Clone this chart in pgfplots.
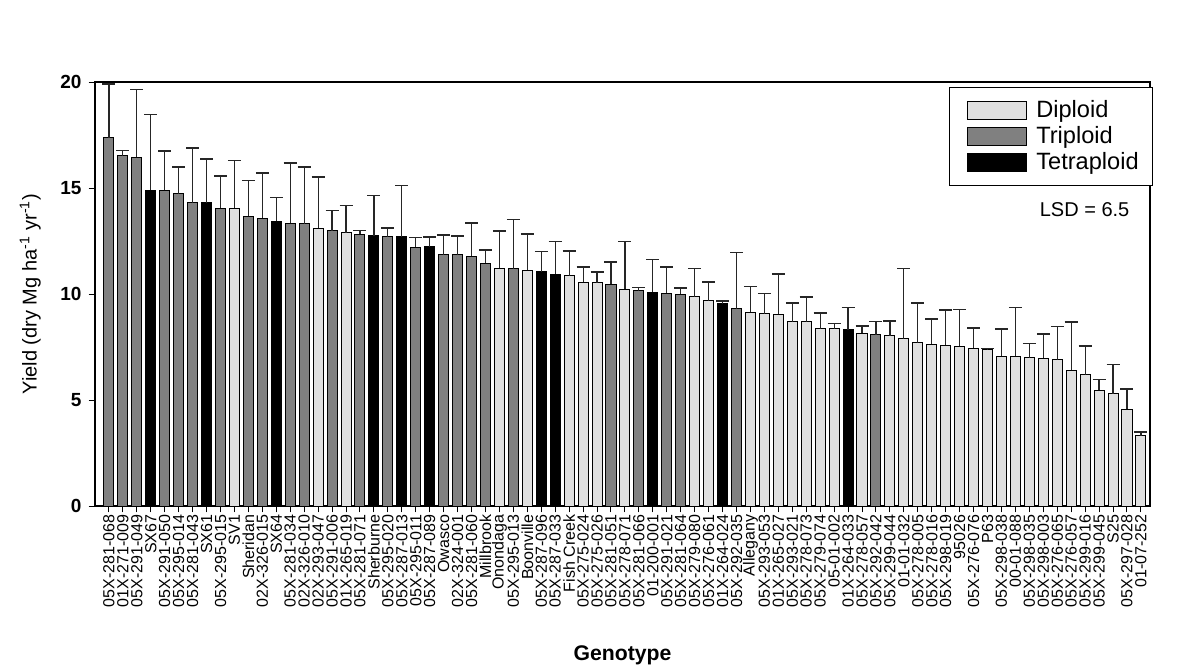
\documentclass[border=0pt]{standalone}
\usepackage{fontspec}
\setmainfont{Liberation Sans}
\usepackage{pgfplots}
\pgfplotsset{compat=1.18}
\definecolor{dip}{HTML}{E0E0E0}
\definecolor{trip}{HTML}{808080}
\begin{document}
\begin{tikzpicture}
\useasboundingbox (-47.5pt,-82pt) rectangle (552.5pt,253pt);
\begin{axis}[
 at={(0,0)}, anchor=south west,
 scale only axis, width=527.5pt, height=212pt,
 xmin=-1, xmax=74.65, ymin=0, ymax=20,
 ybar, bar width=0.72, bar shift=0pt,
 xtick={0,...,74},
 xticklabels={05X-281-068,01X-271-009,05X-291-049,SX67,05X-291-050,05X-295-014,05X-281-043,SX61,05X-295-015,SV1,Sheridan,02X-326-015,SX64,05X-281-034,02X-326-010,02X-293-047,05X-291-006,01X-265-019,05X-281-071,Sherburne,05X-295-020,05X-287-013,05X-295-011,05X-287-089,Owasco,02X-324-001,05X-281-060,Millbrook,Onondaga,05X-295-013,Boonville,05X-287-096,05X-287-033,Fish Creek,05X-275-024,05X-275-026,05X-281-051,05X-278-071,05X-281-066,01-200-001,05X-291-021,05X-281-064,05X-279-080,05X-276-061,01X-264-024,05X-292-035,Allegany,05X-293-053,01X-265-027,05X-293-021,05X-278-073,05X-279-074,05-01-002,01X-264-033,05X-278-057,05X-292-042,05X-299-044,01-01-032,05X-278-005,05X-278-016,05X-298-019,95026,05X-276-076,P63,05X-298-038,00-01-088,05X-298-035,05X-298-003,05X-276-065,05X-276-057,05X-299-016,05X-299-045,S25,05X-297-028,01-07-252},
 xticklabel style={rotate=90, anchor=east, font=\fontsize{8}{8}\selectfont, inner sep=1pt},
 ytick={0,5,10,15,20},
 yticklabel style={font=\fontsize{9.5}{10}\selectfont\bfseries},
 /pgf/number format/assume math mode=true,
 tick align=outside, xtick pos=bottom, ytick pos=left,
 major tick length=3.2pt,
 tick style={black, line width=0.5pt},
 axis line style={line width=0.6pt},
 ylabel={Yield (dry Mg ha\textsuperscript{-1} yr\textsuperscript{-1})},
 ylabel style={font=\fontsize{10}{12}\selectfont, yshift=3pt},
 xlabel={Genotype},
 xlabel style={font=\fontsize{10.6}{12}\selectfont\bfseries, at={(axis description cs:0.5,0)}, anchor=center, yshift=-74.5pt},
 error bars/y dir=plus, error bars/y explicit,
 error bars/error bar style={line width=0.6pt, black!85},
 error bars/error mark options={rotate=90, mark size=3.25pt, line width=0.8pt, black!85},
 legend image code/.code={\path (-4pt,0pt); \draw[#1, line width=0.5pt] (0pt,-4.5pt) rectangle (29.5pt,4.5pt); \path (32pt,0pt);},
 legend style={at={(1.003,0.988)}, anchor=north east, draw=black, line width=0.5pt,
   font=\fontsize{11.8}{13}\selectfont, row sep=-1pt, inner xsep=5pt, inner ysep=4.5pt},
 legend cell align=left,
]
\addplot[fill=dip, draw=black, line width=0.5pt, bar shift=0pt] coordinates {
 (9,14.04) +- (0,2.26)
 (15,13.10) +- (0,2.43)
 (17,12.89) +- (0,1.29)
 (28,11.21) +- (0,1.76)
 (30,11.13) +- (0,1.70)
 (33,10.86) +- (0,1.17)
 (34,10.55) +- (0,0.71)
 (35,10.53) +- (0,0.52)
 (37,10.22) +- (0,2.25)
 (42,9.87) +- (0,1.33)
 (43,9.69) +- (0,0.89)
 (46,9.14) +- (0,1.22)
 (47,9.06) +- (0,0.96)
 (48,9.04) +- (0,1.90)
 (49,8.68) +- (0,0.90)
 (50,8.68) +- (0,1.19)
 (51,8.36) +- (0,0.74)
 (52,8.35) +- (0,0.25)
 (54,8.15) +- (0,0.34)
 (56,8.02) +- (0,0.71)
 (57,7.90) +- (0,3.30)
 (58,7.71) +- (0,1.87)
 (59,7.63) +- (0,1.19)
 (60,7.59) +- (0,1.66)
 (61,7.53) +- (0,1.73)
 (62,7.45) +- (0,0.96)
 (63,7.39) +- (0,0.03)
 (64,7.06) +- (0,1.30)
 (65,7.06) +- (0,2.31)
 (66,7.00) +- (0,0.67)
 (67,6.97) +- (0,1.14)
 (68,6.89) +- (0,1.57)
 (69,6.40) +- (0,2.28)
 (70,6.19) +- (0,1.36)
 (71,5.47) +- (0,0.49)
 (72,5.30) +- (0,1.38)
 (73,4.56) +- (0,0.97)
 (74,3.32) +- (0,0.16)
};
\addlegendentry{Diploid}
\addplot[fill=trip, draw=black, line width=0.5pt, bar shift=0pt] coordinates {
 (0,17.36) +- (0,2.54)
 (1,16.51) +- (0,0.25)
 (2,16.45) +- (0,3.20)
 (4,14.89) +- (0,1.86)
 (5,14.72) +- (0,1.28)
 (6,14.31) +- (0,2.58)
 (8,14.04) +- (0,1.54)
 (10,13.66) +- (0,1.69)
 (11,13.58) +- (0,2.14)
 (13,13.33) +- (0,2.85)
 (14,13.32) +- (0,2.68)
 (16,12.99) +- (0,0.94)
 (18,12.83) +- (0,0.17)
 (20,12.69) +- (0,0.41)
 (22,12.20) +- (0,0.47)
 (24,11.86) +- (0,0.92)
 (25,11.86) +- (0,0.88)
 (26,11.79) +- (0,1.56)
 (27,11.45) +- (0,0.63)
 (29,11.20) +- (0,2.31)
 (36,10.46) +- (0,1.05)
 (38,10.16) +- (0,0.15)
 (40,10.03) +- (0,1.24)
 (41,9.98) +- (0,0.29)
 (45,9.31) +- (0,2.64)
 (55,8.08) +- (0,0.63)
};
\addlegendentry{Triploid}
\addplot[fill=black, draw=black, line width=0.5pt, bar shift=0pt] coordinates {
 (3,14.90) +- (0,3.56)
 (7,14.31) +- (0,2.06)
 (12,13.43) +- (0,1.13)
 (19,12.75) +- (0,1.90)
 (21,12.69) +- (0,2.42)
 (23,12.22) +- (0,0.48)
 (31,11.05) +- (0,0.95)
 (32,10.94) +- (0,1.53)
 (39,10.08) +- (0,1.55)
 (44,9.54) +- (0,0.13)
 (53,8.32) +- (0,1.04)
};
\addlegendentry{Tetraploid}
\node[font=\fontsize{10}{12}\selectfont] at (rel axis cs:0.938,0.698) {LSD = 6.5};
\end{axis}
\end{tikzpicture}
\end{document}
